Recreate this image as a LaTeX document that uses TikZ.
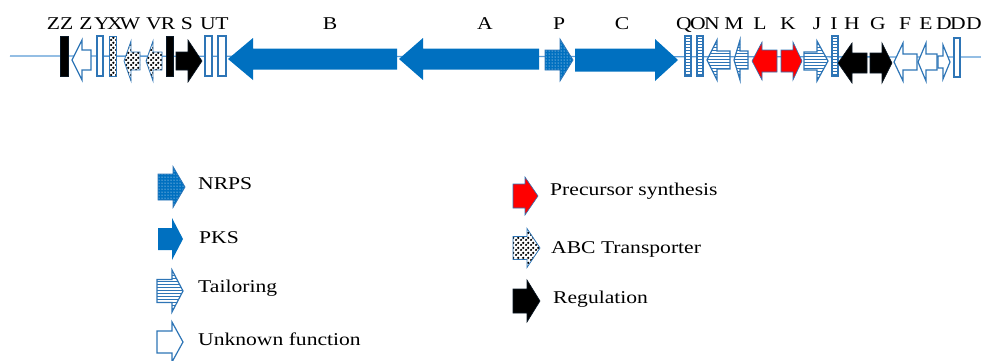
\documentclass[tikz,border=0pt]{standalone}
\usepackage{fontspec}
\setmainfont{Liberation Serif}
\usetikzlibrary{patterns}

\definecolor{pksblue}{RGB}{0,112,192}
\definecolor{edgeblue}{RGB}{46,117,182}
\definecolor{trackblue}{RGB}{91,155,213}

% coarse staggered dots for the transporter genes
\pgfdeclarepatternformonly{checkdots}{\pgfpointorigin}{\pgfpoint{5pt}{5pt}}{\pgfpoint{5pt}{5pt}}{%
  \pgfpathcircle{\pgfpoint{1.25pt}{1.25pt}}{1.45pt}%
  \pgfpathcircle{\pgfpoint{3.75pt}{3.75pt}}{1.45pt}%
  \pgfusepath{fill}}

% gene arrow: style, tail x, head-base x, tip x, centre y, body half-height, head half-height
\newcommand\gene[7]{\path[#1] (#2,{#5-#6}) -- (#3,{#5-#6}) -- (#3,{#5-#7}) -- (#4,#5) -- (#3,{#5+#7}) -- (#3,{#5+#6}) -- (#2,{#5+#6}) -- cycle;}
% short gene drawn as a bar
\newcommand\genebar[3]{\path[#1] (#2,36) rectangle (#3,76);}
\newcommand\wide[1]{\scalebox{1.2}[1]{#1}}

\tikzset{
  pks/.style={fill=pksblue},
  nrps/.style={draw=edgeblue, line width=0.8, preaction={fill=pksblue}, pattern=dots, pattern color=white},
  tailor/.style={draw=edgeblue, line width=1.2, preaction={fill=white}, pattern=horizontal lines, pattern color=edgeblue},
  unk/.style={draw=edgeblue, line width=1.2, fill=white},
  abc/.style={draw=edgeblue, line width=0.8, preaction={fill=white}, pattern=checkdots, pattern color=black},
  regul/.style={fill=black, draw=black!80!edgeblue, line width=0.6},
  prec/.style={fill=red, draw=edgeblue, line width=0.6},
  glbl/.style={font=\fontsize{18}{20}\selectfont, anchor=base, inner sep=0pt},
  leglbl/.style={font=\fontsize{18}{20}\selectfont, anchor=base west, inner sep=0pt},
}

\begin{document}
\begin{tikzpicture}[x=1pt, y=-1pt]
\useasboundingbox (0,0) rectangle (981,360);

% chromosome track
\draw[trackblue, line width=1.3] (10,56) -- (981,57);

% left flank
\genebar{regul}{60}{68}
\gene{unk}{91}{82}{72}{60}{10}{20}
\genebar{unk}{97}{103}
\genebar{abc}{109}{116}
\gene{abc}{140}{131}{124}{61}{9}{20}
\gene{abc}{162}{153}{146}{61}{9}{20}
\genebar{regul}{166}{173}
\gene{regul}{176}{188}{202}{61}{9}{21}
\genebar{unk}{205}{212}
\genebar{unk}{218}{226}

% core PKS / NRPS genes
\gene{pks}{397}{253}{228}{59}{10.5}{21}
\gene{pks}{539}{423}{399}{59}{10.5}{21}
\gene{nrps}{545}{560}{573}{60}{10}{21}
\gene{pks}{575}{655}{678}{60}{11.5}{21}

% right flank
\genebar{tailor}{685}{691}
\genebar{tailor}{697}{703}
\gene{tailor}{730}{717}{707}{60}{9}{20}
\gene{tailor}{748}{740}{734}{60}{9}{20}
\gene{prec}{777}{762}{752}{61}{11}{19}
\gene{prec}{781}{793}{802}{61}{11}{19}
\gene{tailor}{804}{817}{828}{61}{9}{20}
\genebar{tailor}{832}{838}
\gene{regul}{867}{852}{838}{63}{10}{20}
\gene{regul}{870}{882}{892}{63}{10}{20}
\gene{unk}{917}{903}{894}{62}{8}{19}
\gene{unk}{937}{926}{918}{62}{8}{19}
\gene{unk}{938}{943}{950}{62}{6}{17}
\path[unk] (954,38) rectangle (960,77);

% gene names
\node[glbl] (nZZ) at (60,29) {\wide{ZZ}};
\node[glbl] (nZ) at (86,29) {\wide{Z}};
\node[glbl] (nY) at (102,29) {\wide{Y}};
\node[glbl] (nX) at (115,29) {\wide{X}};
\node[glbl] (nW) at (130,29) {\wide{W}};
\node[glbl] (nV) at (154,29) {\wide{V}};
\node[glbl] (nR) at (168,29) {\wide{R}};
\node[glbl] (nS) at (187,29) {\wide{S}};
\node[glbl] (nU) at (208,29) {\wide{U}};
\node[glbl] (nT) at (222,29) {\wide{T}};
\node[glbl] (nB) at (330,29) {\wide{B}};
\node[glbl] (nA) at (485,29) {\wide{A}};
\node[glbl] (nP) at (559,29) {\wide{P}};
\node[glbl] (nC) at (622,29) {\wide{C}};
\node[glbl] (nQ) at (684,29) {\wide{Q}};
\node[glbl] (nO) at (698,29) {\wide{O}};
\node[glbl] (nN) at (712,29) {\wide{N}};
\node[glbl] (nM) at (734,29) {\wide{M}};
\node[glbl] (nL) at (760,29) {\wide{L}};
\node[glbl] (nK) at (788,29) {\wide{K}};
\node[glbl] (nJ) at (817,29) {\wide{J}};
\node[glbl] (nI) at (834,29) {\wide{I}};
\node[glbl] (nH) at (852,29) {\wide{H}};
\node[glbl] (nG) at (878,29) {\wide{G}};
\node[glbl] (nF) at (905,29) {\wide{F}};
\node[glbl] (nE) at (926,29) {\wide{E}};
\node[glbl] (nD1) at (944,29) {\wide{D}};
\node[glbl] (nD2) at (958,29) {\wide{D}};
\node[glbl] (nD3) at (974,29) {\wide{D}};

% legend, left column
\gene{nrps}{158}{173}{185}{187}{13}{20.5}
\node[leglbl] (kNRPS) at (198,189) {\wide{NRPS}};
\gene{pks}{158}{172}{183}{239}{11}{21}
\node[leglbl] (kPKS) at (199,243) {\wide{PKS}};
\gene{tailor}{157}{172}{183}{291}{11.5}{21}
\node[leglbl] (kTail) at (198,292) {\wide{Tailoring}};
\gene{unk}{157}{172}{183}{342}{11}{20}
\node[leglbl] (kUnk) at (198,345) {\wide{Unknown function}};

% legend, right column
\gene{prec}{513}{525}{538}{196}{12}{19}
\node[leglbl] (kPrec) at (550,195) {\wide{Precursor synthesis}};
\gene{abc}{513}{527}{540}{248}{11.5}{19.5}
\node[leglbl] (kABC) at (551,253) {\wide{ABC Transporter}};
\gene{regul}{513}{527}{540}{301}{12}{21}
\node[leglbl] (kReg) at (553,303) {\wide{Regulation}};
\end{tikzpicture}
\end{document}
